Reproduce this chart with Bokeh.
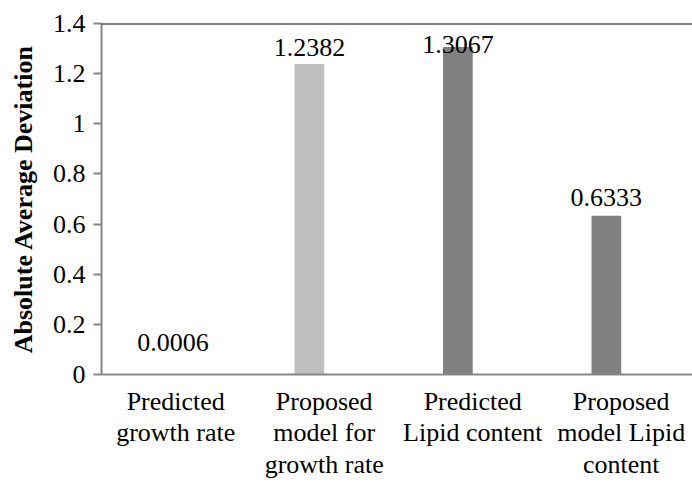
from bokeh.plotting import figure
from bokeh.models import Range1d, FixedTicker, Span, ColumnDataSource
from bokeh.embed import file_html
from bokeh.resources import INLINE

# ---- data ----
categories = ["Predicted\ngrowth rate",
              "Proposed\nmodel for\ngrowth rate",
              "Predicted\nLipid content",
              "Proposed\nmodel Lipid\ncontent"]
deviation = [0.0006, 1.2382, 1.3067, 0.6333]
value_labels = ["0.0006", "1.2382", "1.3067", "0.6333"]
bar_colors = ["#BFBFBF", "#BFBFBF", "#808080", "#808080"]
y_ticks = [0, 0.2, 0.4, 0.6, 0.8, 1.0, 1.2, 1.4]
y_tick_labels = ["0", "0.2", "0.4", "0.6", "0.8", "1", "1.2", "1.4"]

# ---- layout/styling ----
FONT = "Liberation Serif"
centers = [i + 0.5 for i in range(len(categories))]
bar_x = [c - 0.1 for c in centers]
label_dx = [12, 0, 0, 0]
label_dy = [-32, -17, -2, -18]
label_fonts = ["Liberation Serif", "Times New Roman", "serif", "Liberation Serif"]

p = figure(width=692, height=482, output_backend="svg", toolbar_location=None,
           x_range=Range1d(0, 3.98), y_range=Range1d(0, 1.4),
           min_border_left=101, min_border_right=0, min_border_top=23,
           min_border_bottom=106)
p.outline_line_color = None
p.xgrid.grid_line_color = None
p.ygrid.grid_line_color = None

# transparent font-warmup text (invisible)
p.text(x=[1.0, 1.0], y=[0.7, 0.7], text=["0", "0"],
       text_font=["DejaVu Serif", "Liberation Mono"], text_alpha=0,
       text_font_size="26px")

src = ColumnDataSource(dict(x=bar_x, top=deviation, color=bar_colors,
                            label=value_labels, dx=label_dx, dy=label_dy, f=label_fonts))
p.vbar(x="x", top="top", bottom=0, width=0.2, fill_color="color",
       line_color=None, source=src)
p.text(x="x", y="top", text="label", x_offset="dx", y_offset="dy", source=src,
       text_align="center", text_baseline="alphabetic",
       text_font="f", text_font_size="26px", text_color="black")

p.add_layout(Span(location=1.4, dimension="width", line_color="black", line_width=2))

ya = p.yaxis[0]
ya.ticker = FixedTicker(ticks=y_ticks)
ya.major_label_overrides = {t: l for t, l in zip(y_ticks, y_tick_labels)}
ya.axis_label = "Absolute Average Deviation"
ya.axis_label_text_font = FONT
ya.axis_label_text_font_style = "bold"
ya.axis_label_text_font_size = "26px"
ya.axis_label_text_color = "black"
ya.axis_label_standoff = 12
ya.major_label_text_font = FONT
ya.major_label_text_font_size = "26px"
ya.major_label_text_color = "black"
ya.major_label_standoff = 8
ya.axis_line_color = "#868686"
ya.axis_line_width = 2
ya.major_tick_line_color = "#868686"
ya.major_tick_line_width = 2
ya.major_tick_out = 8
ya.major_tick_in = 0
ya.minor_tick_line_color = None

xa = p.xaxis[0]
xa.ticker = FixedTicker(ticks=centers)
xa.major_label_overrides = {c: l for c, l in zip(centers, categories)}
xa.major_label_text_font = "Times New Roman"
xa.major_label_text_font_size = "26px"
xa.major_label_text_color = "black"
xa.major_label_text_line_height = 1.1
xa.major_label_standoff = 6
xa.axis_line_color = "#868686"
xa.axis_line_width = 2
xa.major_tick_line_color = None
xa.minor_tick_line_color = None

open("out.html", "w").write(file_html(p, INLINE))
